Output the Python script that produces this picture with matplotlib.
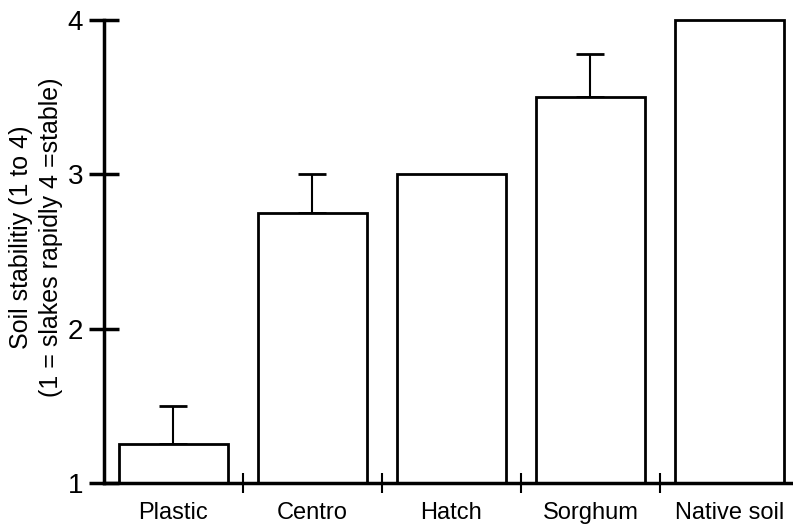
import numpy as np
import matplotlib.pyplot as plt
from matplotlib.ticker import FixedLocator

plt.rcParams['font.family'] = ['Liberation Sans', 'DejaVu Sans']

# data
treatments = ['Plastic', 'Centro', 'Hatch', 'Sorghum', 'Native soil']
stability = [1.25, 2.75, 3.0, 3.5, 4.0]
err_up = [0.25, 0.25, 0.0, 0.28, 0.0]

W, H = 793, 529
fig = plt.figure(figsize=(W / 100, H / 100), dpi=100)
ax = fig.add_axes([104 / W, 1 - 483 / H, (792 - 104) / W, (483 - 20) / H])

x = np.arange(len(treatments))
ax.bar(x, np.array(stability) - 1, bottom=1, width=0.79, color='white',
       edgecolor='black', linewidth=2, clip_on=False, zorder=2)

# only upward error bars, only where there is one
has_err = [i for i in range(len(x)) if err_up[i] > 0]
ax.errorbar(x[has_err], np.array(stability)[has_err],
            yerr=[np.zeros(len(has_err)), np.array(err_up)[has_err]],
            fmt='none', ecolor='black', elinewidth=1.5, capsize=10,
            capthick=2, zorder=1)

ax.set_xlim(-0.5, 4.45)
ax.set_ylim(1, 4)

for s in ['top', 'right']:
    ax.spines[s].set_visible(False)
for s in ['left', 'bottom']:
    ax.spines[s].set_linewidth(2.5)

ax.set_yticks([1, 2, 3, 4])
ax.tick_params(axis='y', direction='inout', length=22, width=2.5,
               labelsize=20, pad=4)
ax.set_xticks(x)
ax.set_xticklabels(treatments)
ax.tick_params(axis='x', which='major', length=0, labelsize=17, pad=14)
ax.xaxis.set_minor_locator(FixedLocator([0.5, 1.5, 2.5, 3.5]))
ax.tick_params(axis='x', which='minor', direction='inout', length=14,
               width=1.5)

ax.set_ylabel('Soil stabilitiy (1 to 4)\n(1 = slakes rapidly 4 =stable)',
              fontsize=18, linespacing=1.3)
ax.yaxis.set_label_coords(-0.06, 0.53)

fig.savefig('out.png', dpi=100)
